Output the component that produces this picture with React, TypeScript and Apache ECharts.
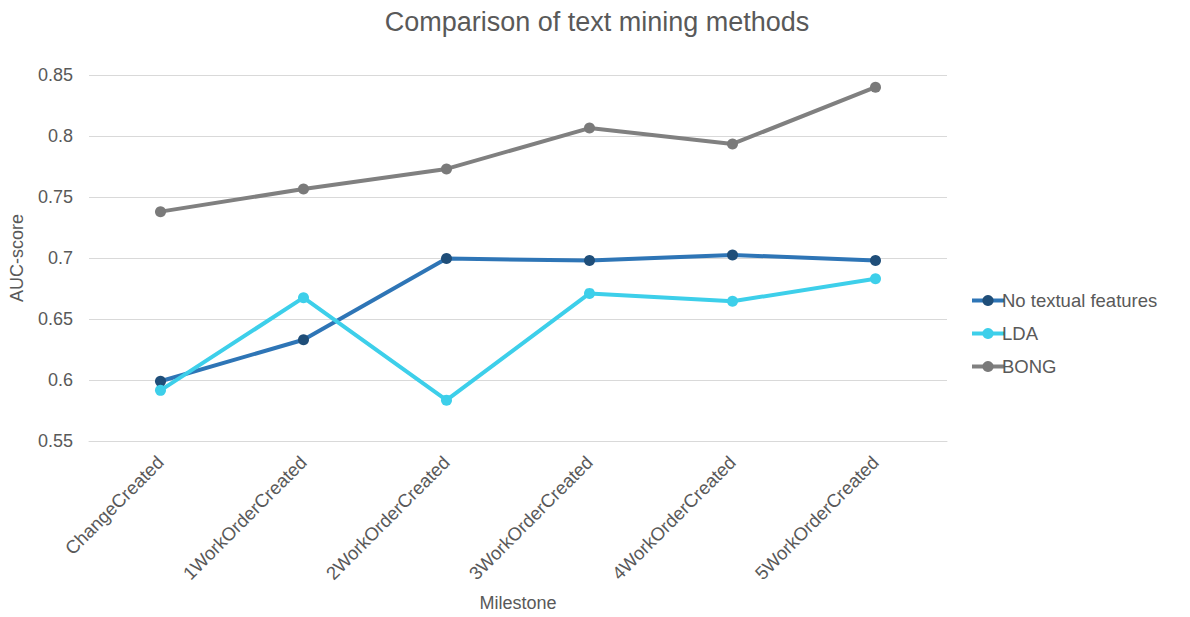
import React, { useEffect, useRef } from "react";
import * as echarts from "echarts";

const milestones = [
  "ChangeCreated",
  "1WorkOrderCreated",
  "2WorkOrderCreated",
  "3WorkOrderCreated",
  "4WorkOrderCreated",
  "5WorkOrderCreated",
];
const noTextual = [0.599, 0.633, 0.6995, 0.698, 0.7025, 0.698];
const lda = [0.5915, 0.6675, 0.5835, 0.671, 0.6645, 0.683];
const bong = [0.738, 0.7565, 0.773, 0.8065, 0.7935, 0.840];

const FONT = "'Liberation Sans', Arial, sans-serif";
const TEXT = "#595959";

export default function App() {
  const ref = useRef<HTMLDivElement>(null);

  useEffect(() => {
    if (!ref.current) return;
    const chart = echarts.init(ref.current, undefined, { renderer: "svg" });
    const mk = (name: string, data: number[], line: string, marker: string) => ({
      name,
      type: "line",
      data,
      symbol: "circle",
      symbolSize: 11,
      lineStyle: { color: line, width: 4 },
      itemStyle: { color: marker },
      color: line,
    });
    chart.setOption({
      animation: false,
      textStyle: { fontFamily: FONT },
      title: {
        text: "Comparison of text mining methods",
        left: 592,
        textAlign: "center",
        top: 3,
        textStyle: { fontFamily: FONT, fontSize: 27, fontWeight: "normal", color: TEXT },
      },
      grid: { left: 85, right: 243, top: 75, bottom: 175 },
      legend: {
        orient: "vertical",
        left: 965,
        top: 286,
        itemWidth: 32,
        itemHeight: 14,
        itemGap: 14,
        lineStyle: { width: 4 },
        textStyle: { fontFamily: FONT, fontSize: 18.5, color: TEXT, padding: [0, 0, 0, -7] },
        data: ["No textual features", "LDA", "BONG"],
      },
      xAxis: {
        type: "category",
        data: milestones,
        boundaryGap: true,
        name: "Milestone",
        nameLocation: "middle",
        nameGap: 153,
        nameTextStyle: { fontFamily: FONT, fontSize: 18, color: TEXT },
        axisLine: { show: true, lineStyle: { color: "#d9d9d9" } },
        axisTick: { show: false },
        axisLabel: { rotate: 45, fontFamily: FONT, fontSize: 18.5, color: TEXT, margin: 18 },
      },
      yAxis: {
        type: "value",
        min: 0.55,
        max: 0.85,
        interval: 0.05,
        name: "AUC-score",
        nameLocation: "middle",
        nameGap: 63,
        nameRotate: 90,
        nameTextStyle: { fontFamily: FONT, fontSize: 18, color: TEXT },
        axisLine: { show: false },
        axisTick: { show: false },
        axisLabel: {
          fontFamily: FONT,
          fontSize: 18,
          color: TEXT,
          margin: 16,
          formatter: (v: number) => String(parseFloat(v.toFixed(2))),
        },
        splitLine: { lineStyle: { color: "#d9d9d9", width: 1 } },
      },
      series: [
        mk("No textual features", noTextual, "#2e75b6", "#1f4e79"),
        mk("LDA", lda, "#3dcfea", "#3dcfea"),
        mk("BONG", bong, "#808080", "#7a7a7a"),
      ],
    });
    return () => chart.dispose();
  }, []);

  return (
    <div
      ref={ref}
      style={{ position: "fixed", left: 0, top: 0, width: 1190, height: 617, background: "#fff" }}
    />
  );
}
